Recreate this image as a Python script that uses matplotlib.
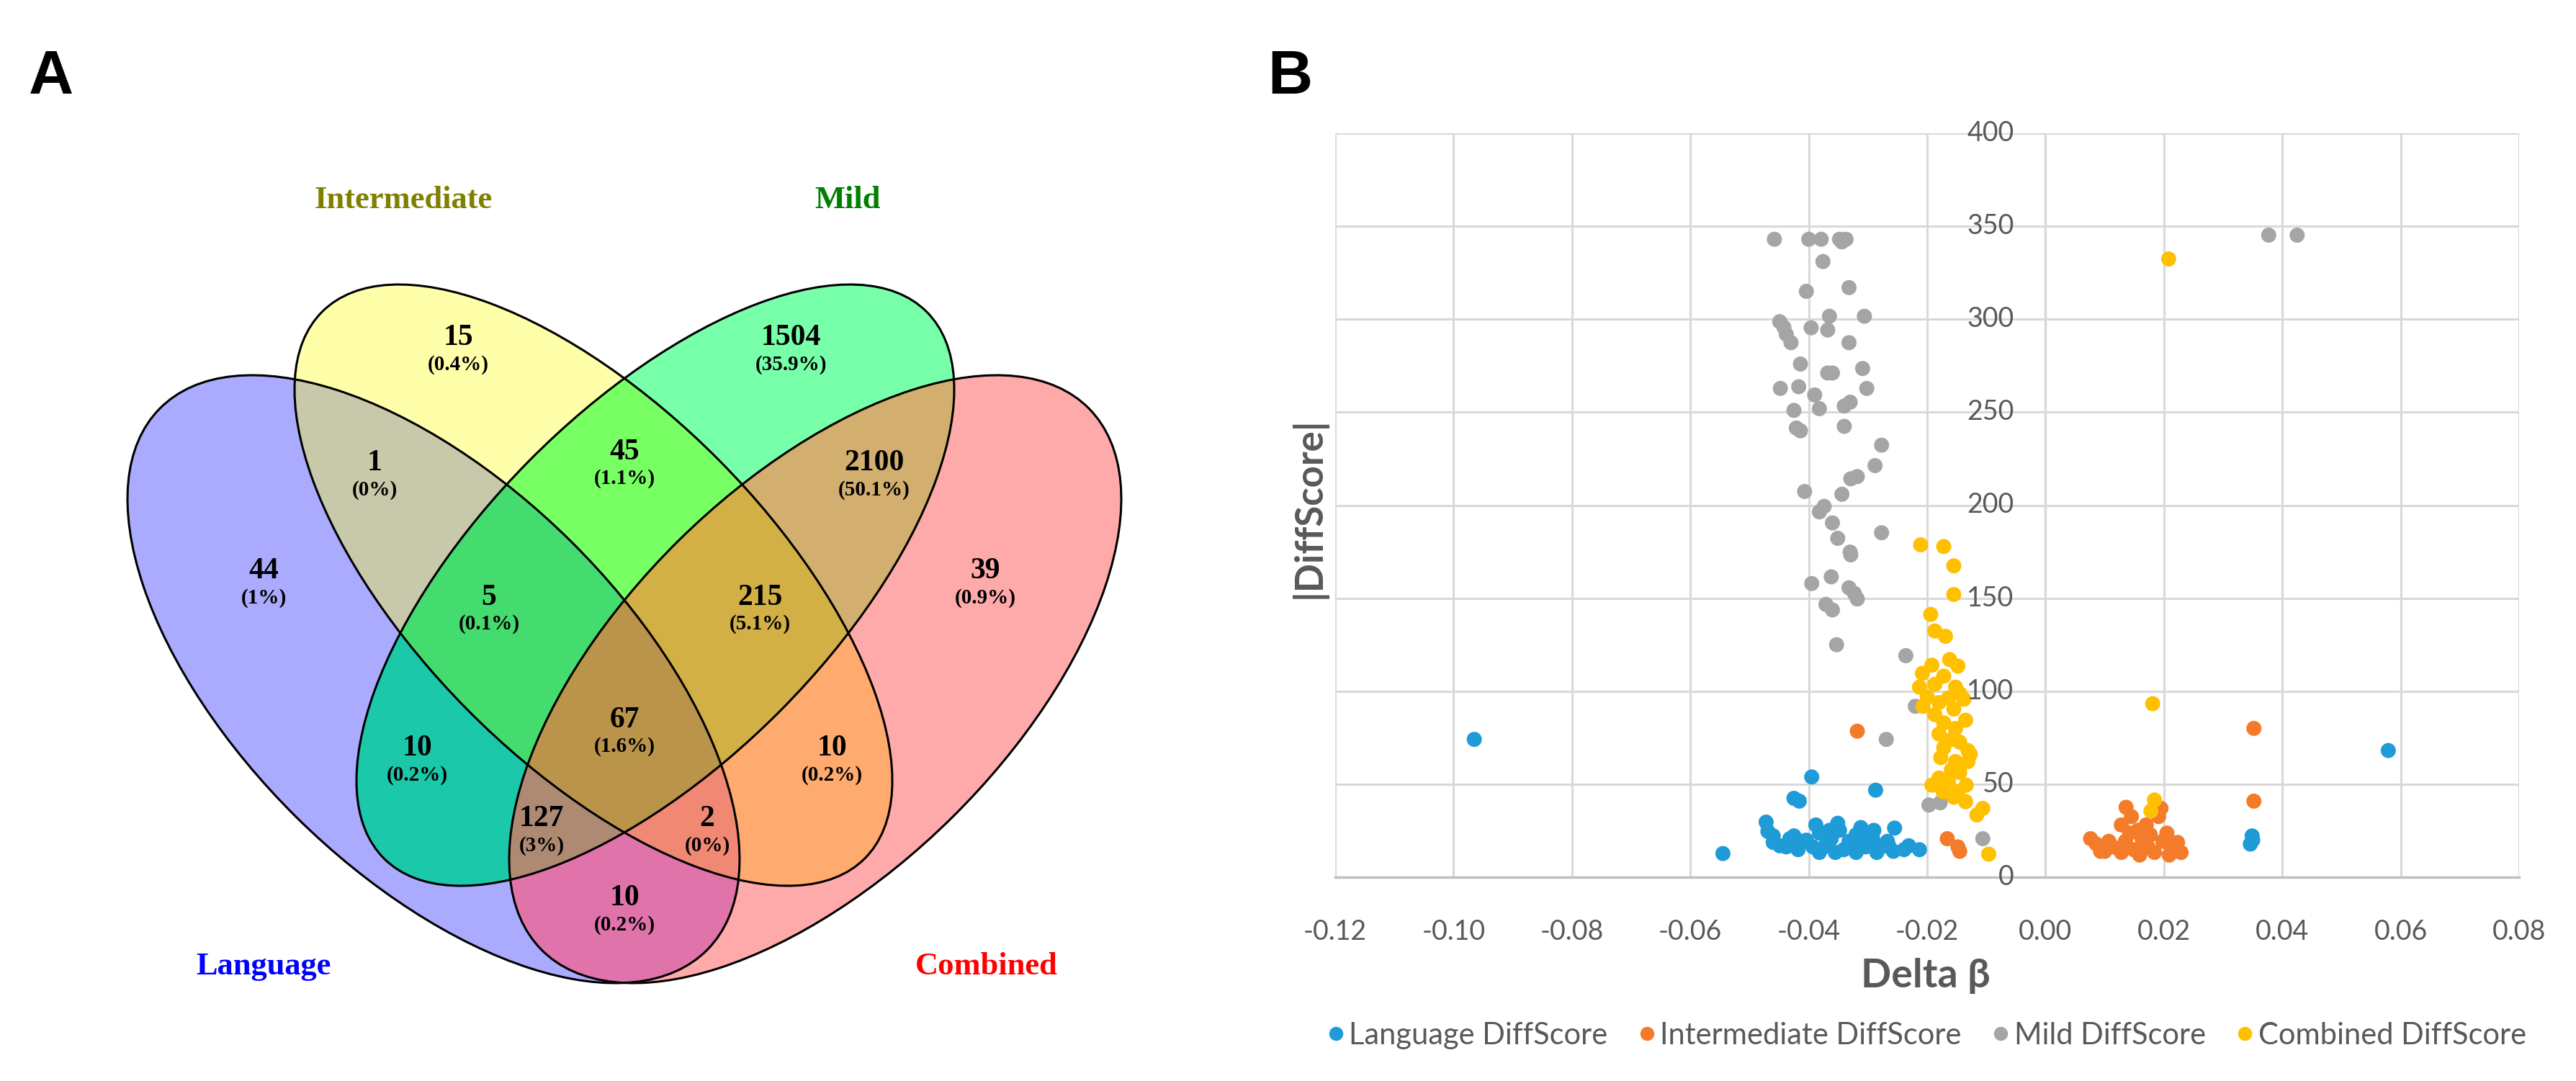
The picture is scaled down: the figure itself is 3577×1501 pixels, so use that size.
import matplotlib
matplotlib.use('Agg')
import numpy as np
import matplotlib.pyplot as plt
from matplotlib.patches import Ellipse, Polygon
from matplotlib.lines import Line2D
from matplotlib.transforms import offset_copy
from itertools import combinations

# ---------------- data ----------------
venn_sets = ['Language', 'Intermediate', 'Mild', 'Combined']
venn_label_colors = ['#0000FF', '#808000', '#008000', '#FF0000']
# regions as membership tuples (L, I, M, C)
venn_regions = [(0, 1, 0, 0), (0, 0, 1, 0), (1, 1, 0, 0), (0, 1, 1, 0), (0, 0, 1, 1),
                (1, 0, 0, 0), (1, 1, 1, 0), (0, 1, 1, 1), (0, 0, 0, 1), (1, 1, 1, 1),
                (1, 0, 1, 0), (0, 1, 0, 1), (1, 0, 1, 1), (1, 1, 0, 1), (1, 0, 0, 1)]
venn_counts = [15, 1504, 1, 45, 2100, 44, 5, 215, 39, 67, 10, 10, 127, 2, 10]
venn_pcts = ['0.4%', '35.9%', '0%', '1.1%', '50.1%', '1%', '0.1%', '5.1%',
             '0.9%', '1.6%', '0.2%', '0.2%', '3%', '0%', '0.2%']

series_names = ['Language DiffScore', 'Intermediate DiffScore', 'Mild DiffScore', 'Combined DiffScore']
series_colors = ['#1F9BD7', '#F47B2A', '#A5A5A5', '#FFC000']

lang_x = [-0.0965, 0.0579, -0.0395, -0.0287, -0.0425, -0.0416, -0.0545, 0.0349, 0.0346, 0.0350,
          -0.0472, -0.0469, -0.0460, -0.0449, -0.0425, -0.0418, -0.0404, -0.0388, -0.0382, -0.0374,
          -0.0362, -0.0351, -0.0348, -0.0341, -0.0332, -0.0320, -0.0312, -0.0304, -0.0292, -0.0290,
          -0.0278, -0.0267, -0.0255, -0.0257, -0.0239, -0.0213, -0.0438, -0.0393, -0.0355, -0.0320,
          -0.0285, -0.0310, -0.0365, -0.0411, -0.0432, -0.0382, -0.0335, -0.0300, -0.0264, -0.0231,
          -0.0460]
lang_y = [74.1, 68.1, 53.9, 46.8, 42.4, 40.9, 12.7, 22.2, 17.8, 19.9,
          29.6, 24.6, 18.7, 16.9, 22.2, 14.8, 19.9, 28.1, 23.7, 16.3,
          20.7, 29.0, 25.2, 14.8, 19.3, 22.8, 26.7, 16.3, 20.7, 25.2,
          16.3, 19.3, 26.4, 13.9, 14.8, 14.8, 16.3, 16.3, 13.3, 13.3,
          13.3, 19.3, 25.2, 19.3, 20.7, 13.3, 16.3, 22.8, 16.3, 16.9,
          22.2]

inter_x = [-0.0318, 0.0352, 0.0352, -0.0166, -0.0148, -0.0145, 0.0136, 0.0128, 0.0145, 0.0191,
           0.0195, 0.0156, 0.0076, 0.0086, 0.0100, 0.0114, 0.0135, 0.0149, 0.0163, 0.0173,
           0.0184, 0.0198, 0.0205, 0.0212, 0.0223, 0.0229, 0.0128, 0.0159, 0.0177, 0.0142,
           0.0107, 0.0209, 0.0170, 0.0093]
inter_y = [78.5, 80.0, 40.9, 20.7, 16.3, 13.9, 37.6, 28.1, 32.6, 32.6,
           37.0, 25.2, 20.7, 17.8, 13.9, 16.3, 19.3, 14.8, 20.7, 16.3,
           13.3, 19.3, 23.7, 16.3, 18.7, 13.3, 13.3, 11.9, 22.8, 23.7,
           19.3, 11.9, 28.1, 13.9]

mild_x = [-0.0458, -0.0400, -0.0379, -0.0348, -0.0337, -0.0344, -0.0376, -0.0404, -0.0332, -0.0365,
          -0.0306, -0.0449, -0.0442, -0.0396, -0.0368, -0.0438, -0.0430, -0.0332, -0.0414, -0.0309,
          -0.0368, -0.0360, -0.0448, -0.0417, -0.0390, -0.0302, -0.0330, -0.0340, -0.0425, -0.0382,
          -0.0421, -0.0414, -0.0340, -0.0277, -0.0288, -0.0318, -0.0329, -0.0407, -0.0344, -0.0374,
          -0.0382, -0.0360, -0.0351, -0.0277, -0.0330, -0.0329, -0.0362, -0.0395, -0.0332, -0.0323,
          -0.0318, -0.0371, -0.0360, -0.0353, -0.0236, -0.0220, -0.0269, -0.0197, -0.0178, -0.0106,
          0.0377, 0.0425]
mild_y = [343.0, 343.0, 343.0, 343.0, 343.0, 341.6, 331.0, 315.0, 317.0, 301.6,
          301.6, 298.7, 295.7, 295.4, 294.2, 291.9, 287.4, 287.4, 275.9, 273.5,
          271.1, 271.1, 262.8, 263.7, 259.3, 262.8, 255.4, 253.3, 251.0, 251.9,
          241.5, 240.0, 242.4, 232.3, 221.3, 215.4, 214.2, 207.4, 205.9, 199.4,
          196.4, 190.5, 182.2, 185.2, 174.8, 173.3, 161.5, 157.9, 155.6, 152.6,
          149.6, 146.7, 143.7, 125.0, 119.1, 91.9, 74.1, 38.8, 40.0, 20.7,
          345.2, 345.2]

comb_x = [0.0208, -0.0211, -0.0172, -0.0155, -0.0155, -0.0194, -0.0187, -0.0169, -0.0162, -0.0148,
          -0.0192, -0.0208, -0.0172, -0.0213, -0.0187, -0.0152, -0.0145, -0.0200, -0.0164, -0.0180,
          -0.0207, -0.0138, -0.0155, -0.0187, -0.0135, -0.0172, -0.0152, -0.0180, -0.0159, -0.0145,
          -0.0172, -0.0131, -0.0127, -0.0177, -0.0152, -0.0131, -0.0159, -0.0145, -0.0180, -0.0164,
          -0.0192, -0.0134, -0.0148, -0.0173, -0.0155, -0.0135, 0.0184, 0.0178, 0.0181, -0.0106,
          -0.0116, -0.0096]
comb_y = [332.4, 178.7, 177.8, 167.4, 152.0, 141.3, 132.4, 129.5, 117.0, 113.5,
          114.0, 109.6, 108.1, 102.2, 103.7, 102.2, 98.7, 96.9, 96.3, 93.9,
          91.9, 95.7, 90.4, 87.4, 84.4, 83.0, 80.0, 77.0, 74.1, 72.6,
          69.6, 68.1, 66.1, 64.3, 62.2, 62.2, 57.8, 56.3, 53.3, 51.3,
          49.5, 49.5, 45.9, 45.9, 43.0, 40.6, 41.5, 35.6, 93.3, 37.0,
          33.5, 12.4]

x_ticks = [-0.12, -0.10, -0.08, -0.06, -0.04, -0.02, 0.00, 0.02, 0.04, 0.06, 0.08]
y_ticks = [0, 50, 100, 150, 200, 250, 300, 350, 400]

# ---------------- styles ----------------
region_colors = {
    (1, 0, 0, 0): '#AAAAFF', (0, 1, 0, 0): '#FFFFAA', (0, 0, 1, 0): '#78FFAA', (0, 0, 0, 1): '#FFAAAA',
    (1, 1, 0, 0): '#C8C8AA', (0, 1, 1, 0): '#78FF64', (0, 0, 1, 1): '#D2AF6E', (1, 0, 1, 0): '#1CC8AA',
    (0, 1, 0, 1): '#FFAA6E', (1, 0, 0, 1): '#E073AA', (1, 1, 1, 0): '#44DC6E', (0, 1, 1, 1): '#D2B046',
    (1, 0, 1, 1): '#AF8A73', (1, 1, 0, 1): '#F08873', (1, 1, 1, 1): '#B9944A'}

W, H = 3577, 1501
fig = plt.figure(figsize=(W / 100, H / 100), dpi=100)
fig.patch.set_facecolor('white')

serif = ['Liberation Serif', 'DejaVu Serif']
narrow = ['Lato', 'Liberation Sans', 'DejaVu Sans']
sans = ['Liberation Sans', 'DejaVu Sans']
grey_txt = '#595959'

# ---------- Panel A: Venn ----------
av = fig.add_axes([0, 0, 1700 / W, 1])
av.set_xlim(0, 1700)
av.set_ylim(1501, 0)
av.axis('off')

# ellipse geometry (panel pixel units): Language, Intermediate, Mild, Combined
ell_geom = [((602, 943), 534.5, 270.2, 44.66),
            ((824, 812.5), 534.8, 246.0, 45.26),
            ((910, 812.5), 534.8, 246.0, 134.74),
            ((1132, 943), 534.5, 270.2, 135.34)]


def boundary(g, n=3000):
    (cx, cy), a, b, ang = g
    t = np.linspace(0, 2 * np.pi, n, endpoint=False)
    th = np.deg2rad(ang)
    x, y = a * np.cos(t), b * np.sin(t)
    return np.column_stack([cx + x * np.cos(th) - y * np.sin(th),
                            cy + x * np.sin(th) + y * np.cos(th)])


def inside(g, p):
    (cx, cy), a, b, ang = g
    th = np.deg2rad(ang)
    dx, dy = p[:, 0] - cx, p[:, 1] - cy
    u = dx * np.cos(th) + dy * np.sin(th)
    v = -dx * np.sin(th) + dy * np.cos(th)
    return (u / a) ** 2 + (v / b) ** 2 <= 1.0 + 1e-9


def intersection_poly(idx):
    pts = []
    for i in idx:
        bp = boundary(ell_geom[i])
        keep = np.ones(len(bp), bool)
        for j in idx:
            if j != i:
                keep &= inside(ell_geom[j], bp)
        pts.append(bp[keep])
    pts = np.vstack(pts)
    c = pts.mean(axis=0)
    order = np.argsort(np.arctan2(pts[:, 1] - c[1], pts[:, 0] - c[0]))
    return pts[order]


for k in range(1, 5):
    for idx in combinations(range(4), k):
        key = tuple(1 if i in idx else 0 for i in range(4))
        poly = intersection_poly(idx)
        av.add_patch(Polygon(poly, closed=True, facecolor=region_colors[key],
                             edgecolor=region_colors[key], lw=0.5, zorder=1 + 0.1 * k))
for (c, a, b, ang) in ell_geom:
    av.add_patch(Ellipse(c, 2 * a, 2 * b, angle=ang, facecolor='none',
                         edgecolor='black', lw=2.2, zorder=2))

region_pos = [(636, 469), (1098, 469), (520, 643), (867, 628), (1214, 643),
              (366, 793), (679, 830), (1055, 830), (1368, 793), (867, 1000),
              (579, 1039), (1155, 1039), (752, 1137), (982, 1137), (867, 1247)]
for (x, y), n, p in zip(region_pos, venn_counts, venn_pcts):
    av.text(x, y, str(n), ha='center', va='center', fontsize=30,
            fontweight='bold', family=serif, zorder=3)
    av.text(x, y + 37, '(' + p + ')', ha='center', va='center', fontsize=21,
            fontweight='bold', family=serif, zorder=3)

cat_pos = [(366, 1342), (560, 278), (1177, 278), (1370, 1342)]
for (x, y), name, col in zip(cat_pos, venn_sets, venn_label_colors):
    av.text(x, y, name, ha='center', va='center', fontsize=32,
            fontweight='bold', family=serif, color=col)

fig.text(40 / W, 1 - 130 / H, 'A', fontsize=62, fontweight='bold', family=sans,
         ha='left', va='baseline')
fig.text(1760 / W, 1 - 130 / H, 'B', fontsize=62, fontweight='bold', family=sans,
         ha='left', va='baseline')

# ---------- Panel B: scatter ----------
ax = fig.add_axes([1854 / W, 1 - 1218 / H, (3498 - 1854) / W, (1218 - 185) / H])
ax.set_xlim(-0.12, 0.08)
ax.set_ylim(0, 400)
ax.set_xticks(x_ticks)
ax.set_yticks(y_ticks)
ax.grid(True, color='#D9D9D9', lw=2.2, zorder=0)
ax.set_axisbelow(True)
for s in ['top', 'left', 'right']:
    ax.spines[s].set_visible(False)
ax.spines['bottom'].set_color('#BFBFBF')
ax.spines['bottom'].set_linewidth(2.4)
ax.spines['bottom'].set_zorder(1)
ax.axvline(0, color='#D0D0D0', lw=2.4, zorder=0.5)
ax.tick_params(length=0)
ax.set_xticklabels(['%.2f' % v for v in x_ticks], fontsize=27, family=narrow,
                   color=grey_txt)
ax.tick_params(axis='x', pad=42)
ax.set_yticklabels([])
ytr = offset_copy(ax.transData, fig=fig, x=-44, y=0, units='dots')
for v in y_ticks:
    ax.text(0, v, str(v), transform=ytr, ha='right', va='center', fontsize=27,
            family=narrow, color=grey_txt, zorder=4)

for xs, ys, col in zip([lang_x, inter_x, mild_x, comb_x],
                       [lang_y, inter_y, mild_y, comb_y], series_colors):
    ax.scatter(xs, ys, s=228, color=col, edgecolors='none', zorder=3)

fig.text(2674 / W, 1 - 1355 / H, 'Delta β', ha='center', va='center', fontsize=40,
         fontweight='bold', family=narrow, color=grey_txt)
fig.text(1817 / W, 1 - 705 / H, '|DiffScore|', ha='center', va='center', fontsize=38,
         fontweight='bold', family=narrow, color=grey_txt, rotation=90)

handles = [Line2D([], [], marker='o', ls='', color=c, markersize=13) for c in series_colors]
leg = fig.legend(handles, series_names, loc='center', bbox_to_anchor=(2675 / W, 1 - 1438 / H),
                 ncol=4, frameon=False, prop={'family': narrow, 'size': 30},
                 handletextpad=0.15, columnspacing=1.0, handlelength=0.6)
for t in leg.get_texts():
    t.set_color(grey_txt)

fig.savefig('out.png', dpi=100, facecolor='white')
